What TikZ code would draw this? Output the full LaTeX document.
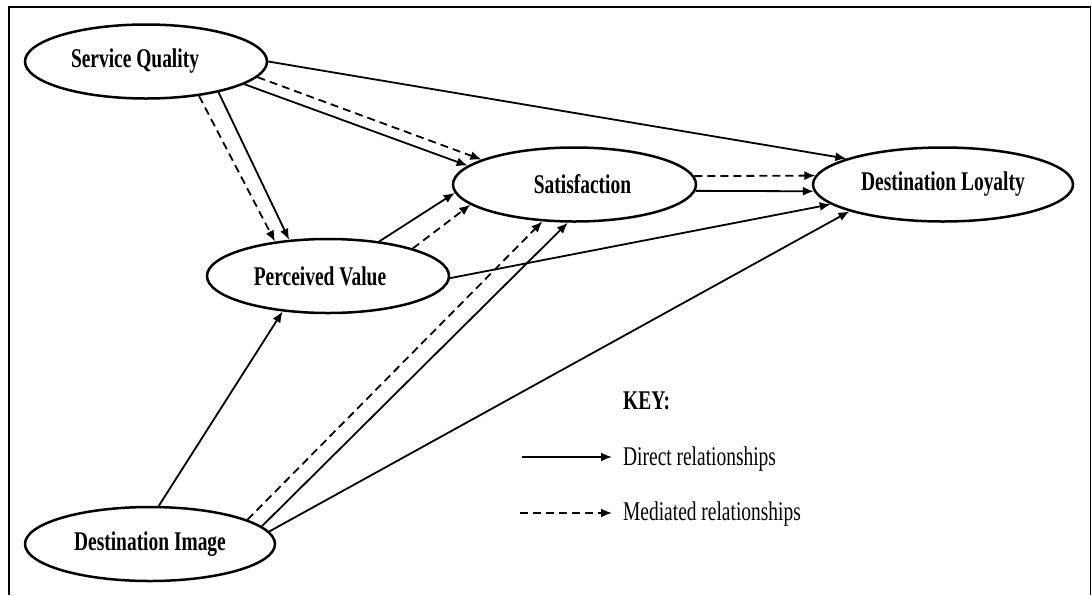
\documentclass[tikz,border=0pt]{standalone}
\usepackage{fontspec}
\setmainfont{Liberation Serif}[FakeStretch=0.72]
\usetikzlibrary{arrows.meta,shapes.geometric}
\begin{document}
\begin{tikzpicture}[x=1pt,y=-1pt,
  construct/.style={draw, ellipse, line width=2.5pt, inner sep=0pt,
    minimum height=74pt, font=\fontsize{27}{31}\selectfont\bfseries},
  rel/.style={line width=1.8pt, -{Latex[length=11pt,width=9pt]}},
  mediated/.style={rel, dash pattern=on 8pt off 5pt},
  keytext/.style={anchor=base west, inner sep=0pt, font=\fontsize{27}{31}\selectfont}]
\useasboundingbox (0,0) rectangle (1092,595);

% open frame (no bottom edge)
\draw[line width=1.5pt] (9,595) -- (9,7) -- (1090.5,7) -- (1090.5,595);

% constructs
\node[construct, minimum width=242pt] (sq)  at (146,61.5)   {\hspace*{-22pt}Service Quality};
\node[construct, minimum width=242pt] (pv)  at (328,276)    {\hspace*{-16pt}Perceived Value};
\node[construct, minimum width=243pt] (sat) at (574.5,184.5) {\hspace*{16pt}Satisfaction};
\node[construct, minimum width=260pt] (dl)  at (943,184.5)  {Destination Loyalty};
\node[construct, minimum width=250pt] (di)  at (150,544)    {Destination Image};

% paths from service quality
\draw[rel]      (sq.0)     -- (dl.165.9);
\draw[rel]      (sq.-13.5) -- (sat.170.4);
\draw[mediated] (sq.-8.2)  -- (sat.165.7);
\draw[mediated] (sq.-33)   -- (pv.147.9);
\draw[rel]      (sq.-23.5) -- (pv.137.3);

% paths from perceived value
\draw[rel]      (pv.34)    -- (sat.184);
\draw[mediated] (pv.18.4)  -- (sat.191.9);
\draw[rel]      (pv.-1)    -- (dl.190);

% satisfaction to loyalty
\draw[mediated] (sat.4.1)  -- (dl.176.2);
\draw[rel]      (sat.-3.6) -- (dl.183.4);

% paths from destination image
\draw[rel]      (di.77.8)  -- (pv.218.8);
\draw[mediated] (di.14.5)  -- (sat.229);
\draw[rel]      (di.9.5)   -- (sat.260.1);
\draw[rel]      (di.6)     -- (dl.196.4);

% key
\node[keytext, font=\fontsize{27}{31}\selectfont\bfseries] (key) at (623,409) {KEY:};
\coordinate (k1a) at (522,457);
\coordinate (k1b) at (612,457);
\draw[rel] (k1a) -- (k1b);
\node[keytext] (kd) at (623,465) {Direct relationships};
\coordinate (k2a) at (520,513);
\coordinate (k2b) at (612,513);
\draw[mediated] (k2a) -- (k2b);
\node[keytext] (km) at (623,520) {Mediated relationships};
\end{tikzpicture}
\end{document}
